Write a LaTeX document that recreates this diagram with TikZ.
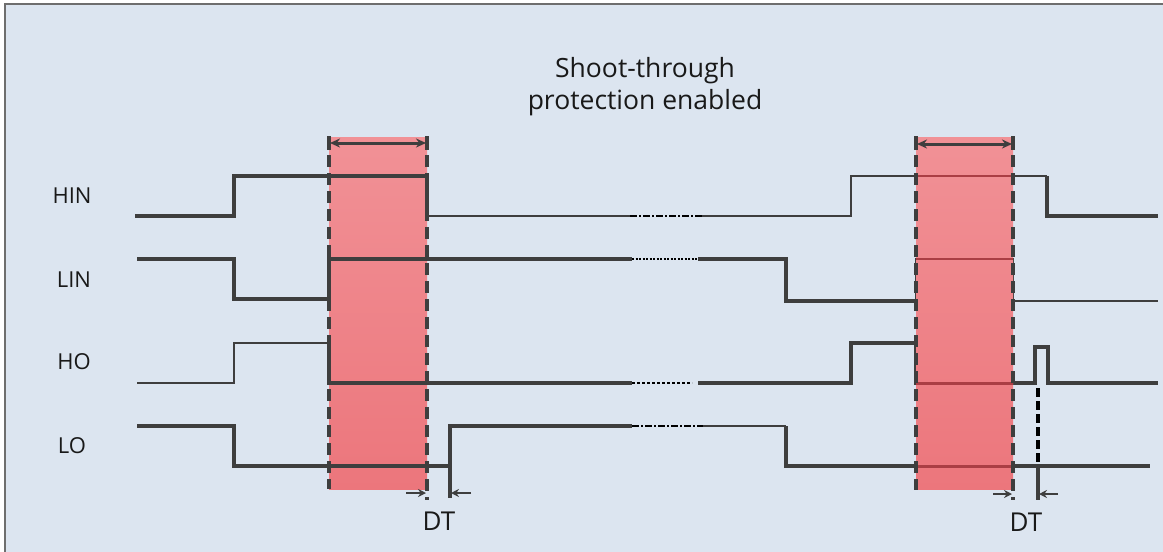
\documentclass[tikz,border=0pt]{standalone}
\usepackage{fontspec}
\setmainfont{Open Sans}
\usetikzlibrary{arrows.meta}
\definecolor{bg}{RGB}{220,229,240}
\definecolor{wire}{RGB}{62,62,62}
\definecolor{redtop}{RGB}{241,145,150}
\definecolor{redbot}{RGB}{236,118,124}
\definecolor{darkred}{RGB}{170,62,68}
\definecolor{frame}{RGB}{110,110,110}
\tikzset{
  sig/.style={draw=wire,line width=3.2pt,line join=miter},
  sigthin/.style={draw=wire,line width=2.6pt,line join=miter},
  brk/.style={draw=black,line width=2.4pt,dash pattern=on 7pt off 2pt on 2pt off 2pt},
  zone/.style={top color=redtop,bottom color=redbot,draw=none},
  edge/.style={draw=wire,line width=3.4pt,dash pattern=on 12pt off 6pt},
  dim/.style={draw=wire,line width=3pt,{Stealth[length=10pt,width=9pt]}-{Stealth[length=10pt,width=9pt]}},
  dtarrow/.style={draw=wire,line width=2.4pt,-{Stealth[length=8pt,width=8pt]}},
  lbl/.style={font=\fontsize{22}{26}\selectfont,text=black!90},
}
\begin{document}
\begin{tikzpicture}[x=1pt,y=-1pt]
\useasboundingbox (0,0) rectangle (1163,552);
\fill[white] (0,0) rectangle (1163,552);
\fill[bg] (5,4) rectangle (1163,552);
\draw[frame,line width=2.4pt] (5,552) -- (5,4) -- (1163,4);

% first protection zone
\shade[zone] (329,137) rectangle (427,489);

% waveforms
% HIN
\draw[sig] (135,216) -- (234,216) -- (234,176) -- (427,176) -- (427,216);
\draw[sigthin] (427,216) -- (630,216);
\draw[brk] (630,216) -- (702,216);
\draw[sigthin] (702,216) -- (851,216) -- (851,176) -- (1047,176);
\draw[sig] (1047,176) -- (1047,216) -- (1158,216);
% LIN
\draw[sig] (137,259) -- (234,259) -- (234,299) -- (329,299) -- (329,259) -- (632,259);
\draw[brk,dash pattern=on 2pt off 1.5pt] (632,259) -- (698,259);
\draw[sig] (698,259) -- (786,259) -- (786,301) -- (916,301);
\draw[sigthin] (916,301) -- (916,259) -- (1013,259) -- (1013,301) -- (1158,301);
% HO
\draw[sigthin] (137,383) -- (234,383) -- (234,343) -- (329,343);
\draw[sig] (329,343) -- (329,383) -- (632,383);
\draw[brk,dash pattern=on 3pt off 2pt] (632,383) -- (692,383);
\draw[sig] (698,383) -- (851,383) -- (851,343) -- (916,343) -- (916,383) -- (1035,383) -- (1035,347) -- (1048,347) -- (1048,383) -- (1158,383);
% LO
\draw[sig] (137,426) -- (234,426) -- (234,466) -- (450,466) -- (450,426) -- (632,426);
\draw[brk] (632,426) -- (703,426);
\draw[sigthin] (703,426) -- (786,426);
\draw[sig] (786,426) -- (786,466) -- (1150,466);
\draw[sig] (450,466) -- (450,498);

% second protection zone (over the wires)
\shade[zone] (916,137) rectangle (1013,489);
\begin{scope}
  \clip (916,137) rectangle (1013,489);
  \draw[darkred,line width=2.6pt] (916,176) -- (1013,176);
  \draw[darkred,line width=2.6pt] (916,259) -- (1013,259);
  \draw[darkred,line width=3pt] (916,383) -- (1013,383);
  \draw[darkred,line width=3pt] (916,466) -- (1013,466);
\end{scope}

% zone edges
\draw[edge] (329,137) -- (329,489);
\draw[edge] (427,137) -- (427,500);
\draw[edge] (916,137) -- (916,490);
\draw[edge] (1013,137) -- (1013,500);
\draw[sig] (329,136) -- (329,150);
\draw[sig] (427,136) -- (427,150);
\draw[sig] (916,136) -- (916,150);
\draw[sig] (1013,136) -- (1013,150);

% dead-time marker
\draw[draw=black,line width=3.4pt,dash pattern=on 9pt off 4pt] (1038,388) -- (1038,466);
\draw[sig] (1038,466) -- (1038,500);

% dimension arrows
\draw[dim] (330,143) -- (426,143);
\draw[dim] (917,144) -- (1012,144);

% DT arrows
\draw[dtarrow] (406,493) -- (426,493);
\draw[dtarrow] (471,493) -- (451,493);
\draw[dtarrow] (993,494) -- (1012,494);
\draw[dtarrow] (1058,494) -- (1039,494);

% labels
\node[lbl] (hin) at (72,196) {HIN};
\node[lbl] (lin) at (74,280) {LIN};
\node[lbl] (ho) at (74,362) {HO};
\node[lbl] (lo) at (72,446) {LO};
\node[lbl,font=\fontsize{26}{30}\selectfont] (dt1) at (439,521) {DT};
\node[lbl,font=\fontsize{26}{30}\selectfont] (dt2) at (1026,522) {DT};
\node[lbl,align=center,font=\fontsize{26.5}{32}\selectfont] (title) at (645,87) {Shoot-through\\protection enabled};
\end{tikzpicture}
\end{document}
